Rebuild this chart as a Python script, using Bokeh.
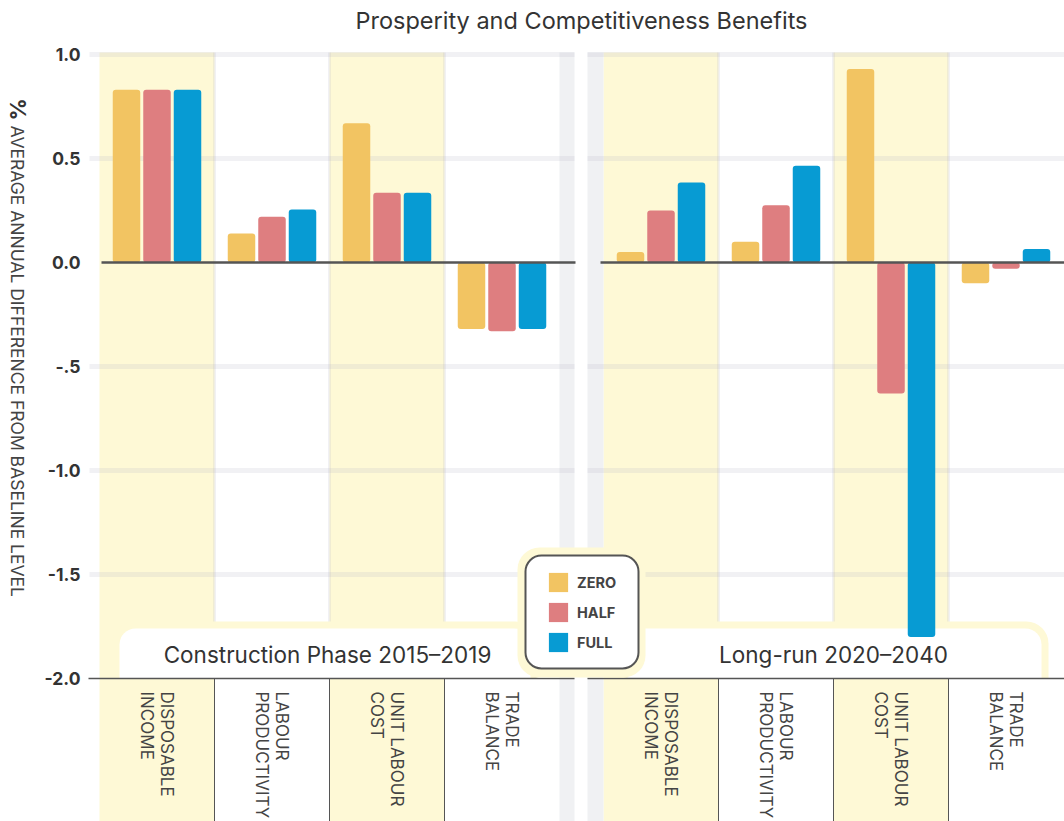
import math
from bokeh.plotting import figure
from bokeh.models import Range1d, ColumnDataSource, Legend, LegendItem
from bokeh.core.properties import value
from bokeh.embed import file_html
from bokeh.resources import INLINE

# ---------------- data ----------------
title_text = "Prosperity and Competitiveness Benefits"
y_title_symbol = "%"
y_title = "AVERAGE ANNUAL DIFFERENCE FROM BASELINE LEVEL"
categories = ["DISPOSABLE\nINCOME", "LABOUR\nPRODUCTIVITY", "UNIT LABOUR\nCOST", "TRADE\nBALANCE"]
highlighted = [True, False, True, False]
phases = ["Construction Phase 2015\u20132019", "Long-run 2020\u20132040"]
scenarios = ["ZERO", "HALF", "FULL"]
scenario_colors = ["#F2C462", "#DE7E80", "#079BD3"]

construction_zero = [0.83, 0.14, 0.67, -0.32]
construction_half = [0.83, 0.22, 0.335, -0.33]
construction_full = [0.83, 0.255, 0.335, -0.32]
longrun_zero = [0.05, 0.10, 0.93, -0.10]
longrun_half = [0.25, 0.275, -0.63, -0.03]
longrun_full = [0.385, 0.465, -1.80, 0.065]

y_ticks = [1.0, 0.5, 0.0, -0.5, -1.0, -1.5, -2.0]
y_tick_labels = ["1.0", "0.5", "0.0", "-.5", "-1.0", "-1.5", "-2.0"]
grid_values = [1.0, 0.5, -0.5, -1.0, -1.5]

# ---------------- layout helpers (page pixels -> data) ----------------
FONT = "Inter"
W, H = 1064, 821
BAND0, BANDW = 99.0, 115.0
Y0PX, PXU = 262.0, 208.0


def X(px):
    return (px - BAND0) / BANDW


def Y(py):
    return (Y0PX - py) / PXU


panel_offsets = [0.0, X(603)]
BAR_W = 27.5 / BANDW
BAR_STEP = 30.5 / BANDW

p = figure(width=W, height=H, output_backend="svg", toolbar_location=None,
           x_range=Range1d(X(0), X(W)), y_range=Range1d(Y(H), Y(0)),
           x_axis_type=None, y_axis_type=None, min_border=0)
p.outline_line_color = None
p.grid.visible = False
p.background_fill_color = "white"
p.border_fill_color = "white"

BAND_YELLOW = "#FEF9D6"
STRIP_GREY = "#F0F1F3"
DARK = "#555555"

# highlighted category bands
bl, br = [], []
for off in panel_offsets:
    for i, h in enumerate(highlighted):
        if h:
            bl.append(off + i)
            br.append(off + i + 1)
p.quad(left=bl, right=br, top=Y(52), bottom=Y(H), fill_color=BAND_YELLOW, line_color=None)

# grey strips between panels
p.quad(left=[X(559), X(587)], right=[X(574), X(603)], top=Y(52), bottom=Y(H),
       fill_color=STRIP_GREY, line_color=None)

# horizontal gridlines
gx0, gx1, gy = [], [], []
for g in grid_values:
    for a, b in [(X(89), X(574)), (X(587), X(W))]:
        gx0.append(a); gx1.append(b); gy.append(g)
p.segment(x0=gx0, x1=gx1, y0=gy, y1=gy, line_color="#B8B8C8", line_alpha=0.2, line_width=5)

# vertical light gridlines at band boundaries
vx = [off + i for off in panel_offsets for i in (1, 2, 3)]
p.segment(x0=vx, x1=vx, y0=Y(52), y1=-2.0, line_color="#B8B8C8", line_alpha=0.2, line_width=3)

# panel label boxes
p.quad(left=[X(112), X(620)], right=[X(537), X(1048)], top=Y(621), bottom=-2.0,
       fill_color=BAND_YELLOW, line_color=None, border_radius=(22, 22, 0, 0))
p.quad(left=[X(119), X(627)], right=[X(530), X(1041)], top=Y(628), bottom=-2.0,
       fill_color="white", line_color=None, border_radius=(16, 16, 0, 0))

# bars
panels = [[construction_zero, construction_half, construction_full],
          [longrun_zero, longrun_half, longrun_full]]
renderers = []
for j, (name, color) in enumerate(zip(scenarios, scenario_colors)):
    xs, tops, bottoms = [], [], []
    for off, series in zip(panel_offsets, panels):
        for i, v in enumerate(series[j]):
            xs.append(off + i + 0.5 + (j - 1) * BAR_STEP)
            tops.append(max(v, 0.0))
            bottoms.append(min(v, 0.0))
    src = ColumnDataSource(dict(x=xs, top=tops, bottom=bottoms))
    r = p.vbar(x="x", top="top", bottom="bottom", width=BAR_W, source=src,
               fill_color=color, line_color=None, border_radius=3)
    renderers.append(r)

# zero line and baseline
p.segment(x0=[X(101), X(600)], x1=[X(575), X(W)], y0=0.0, y1=0.0, line_color=DARK, line_width=2.5)
p.segment(x0=[X(88), X(587)], x1=[X(574), X(W)], y0=-2.0, y1=-2.0, line_color=DARK, line_width=1.5)

# category separators below the axis
p.segment(x0=vx, x1=vx, y0=-2.0, y1=Y(H), line_color=DARK, line_width=1)

# y tick labels
p.text(x=X(80), y=y_ticks, text=y_tick_labels, text_align="right", text_baseline="middle",
       text_font=value(FONT), text_font_style="bold", text_font_size="17.5px", text_color="#333333")

# y title
p.text(x=X(17), y=Y(109), text=[y_title_symbol], angle=-math.pi / 2, text_align="center",
       text_baseline="middle", text_font=value(FONT), text_font_style="bold",
       text_font_size="22px", text_color="#333333")
p.text(x=X(17), y=Y(125), text=[y_title], angle=-math.pi / 2, text_align="left",
       text_baseline="middle", text_font=value(FONT), text_font_size="17.5px", text_color="#444444")

# category labels
cx = [off + i + 0.5 for off in panel_offsets for i in range(len(categories))]
ct = categories * len(panel_offsets)
p.text(x=cx, y=Y(691), text=ct, angle=-math.pi / 2, text_align="left", text_baseline="middle",
       text_font=value(FONT), text_font_size="17px", text_color="#444444", text_line_height=0.98)

# panel labels
p.text(x=[X(327), X(833)], y=Y(654), text=phases, text_align="center", text_baseline="middle",
       text_font=value(FONT), text_font_size="22.5px", text_color="#333333")

# title
p.text(x=X(581), y=Y(20), text=[title_text], text_align="center", text_baseline="middle",
       text_font=value(FONT), text_font_size="23.5px", text_color="#333333")

# legend box
p.quad(left=X(517), right=X(645), top=Y(547), bottom=Y(677), fill_color=BAND_YELLOW,
       line_color=None, border_radius=22)
p.quad(left=X(525), right=X(638), top=Y(555), bottom=Y(668), fill_color="white",
       line_color=DARK, line_width=2, border_radius=16)

legend = Legend(items=[LegendItem(label=n, renderers=[r]) for n, r in zip(scenarios, renderers)],
                location=(538, 159), orientation="vertical", glyph_width=24, glyph_height=24,
                label_height=24, spacing=6, padding=8, margin=0, label_standoff=7,
                label_text_font=FONT, label_text_font_style="bold", label_text_font_size="14.5px",
                label_text_color="#444444", label_text_baseline="middle",
                background_fill_alpha=0, border_line_alpha=0)
p.add_layout(legend)

open("out.html", "w").write(file_html(p, INLINE))
